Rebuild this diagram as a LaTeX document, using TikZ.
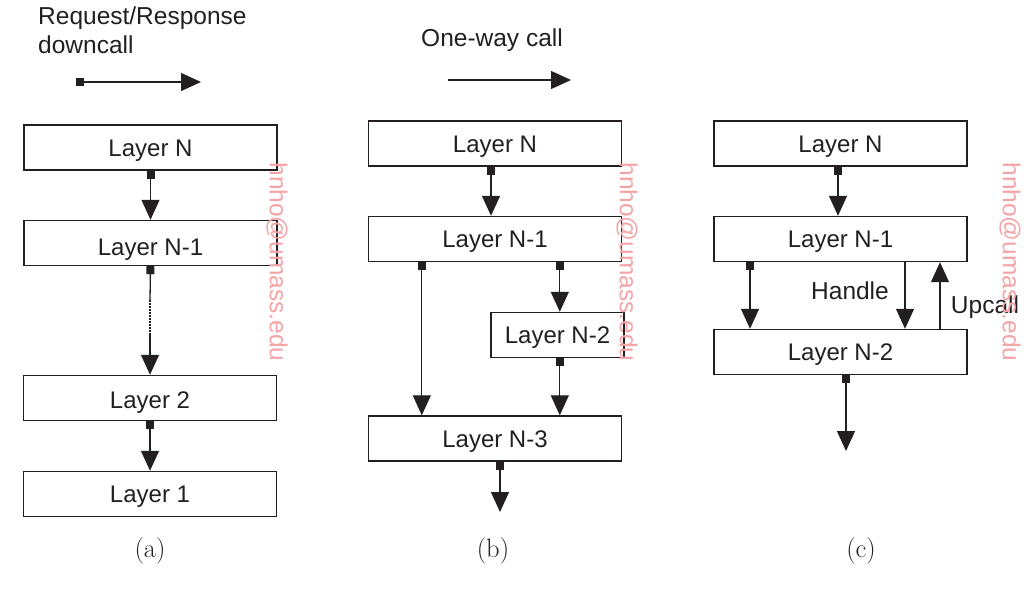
\documentclass[tikz,border=0pt]{standalone}
\usepackage{fontspec}
\setsansfont{Liberation Sans}
\usetikzlibrary{arrows.meta,calc}
\definecolor{ink}{HTML}{231F20}
\definecolor{wm}{HTML}{F4A3A6}
\tikzset{
  layerbox/.style={draw=ink, line width=1.4pt, minimum width=253pt, minimum height=45pt, inner sep=0pt,
    text height=17pt, text depth=0pt,
    text=ink, font=\sffamily\fontsize{24}{28}\selectfont},
  lbl/.style={text=ink, font=\sffamily\fontsize{24.5}{28}\selectfont, inner sep=0pt},
  subcap/.style={text=ink, font=\fontsize{26.5}{30}\selectfont, inner sep=0pt},
  wmark/.style={text=wm, rotate=-90, font=\sffamily\fontsize{24.5}{28}\selectfont, inner sep=0pt},
  conn/.style={draw=ink, line width=1.3pt},
  call/.style={conn, {Square[length=8pt,width=8pt]}-{Triangle[length=20pt,width=18pt]}},
  plain/.style={conn, -{Triangle[length=20pt,width=18pt]}},
}
\begin{document}
\begin{tikzpicture}[x=1pt,y=-1pt]
\useasboundingbox (0,0) rectangle (1036,594);
% ---------------- (a)
\node[lbl, anchor=west] (ta1) at (38,18) {Request/Response};
\node[lbl, anchor=west] (ta2) at (38,45) {downcall};
\coordinate (la1) at (76,82);
\coordinate (la2) at (201,82);
\draw[call] (la1) -- (la2);
\node[layerbox] (aN) at (150.5,147.5) {Layer N};
\node[layerbox, text height=25pt] (aN1) at (150.5,243) {Layer N-1};
\node[layerbox, text height=21pt] (a2) at (150,398) {Layer 2};
\node[layerbox] (a1) at (150,494) {Layer 1};
\draw[call] (aN.south) -- (aN1.north);
\coordinate (d1) at (150,300);
\coordinate (d2) at (150,334);
\draw[conn, {Square[length=8pt,width=8pt]}-] (aN1.south) -- (d1);
\draw[conn, line width=1.2pt, dash pattern=on 1.5pt off 1.5pt] (d1) -- (d2);
\draw[plain] (d2) -- (a2.north);
\draw[call] (a2.south) -- (a1.north);
\node[subcap] (ca) at (150,551) {(a)};
\node[wmark] (wa) at (277,262) {hnho@umass.edu};
% ---------------- (b)
\node[lbl] (tb) at (492,40) {One-way call};
\coordinate (lb1) at (448,80);
\coordinate (lb2) at (571,80);
\draw[plain] (lb1) -- (lb2);
\node[layerbox] (bN) at (495,143.5) {Layer N};
\node[layerbox] (bN1) at (495,239) {Layer N-1};
\node[layerbox, minimum width=133pt] (bN2) at (557.5,335) {Layer N-2};
\node[layerbox] (bN3) at (495,438.5) {Layer N-3};
\draw[call] (bN.south -| 491,0) -- (bN1.north -| 491,0);
\draw[call] ([xshift=54pt]bN1.south west) -- ([xshift=54pt]bN3.north west);
\draw[call] ([xshift=192pt]bN1.south west) -- ([xshift=192pt]bN3.north west |- bN2.north);
\draw[call] ([xshift=192pt]bN1.south west |- bN2.south) -- ([xshift=192pt]bN3.north west);
\coordinate (bend) at (500,512);
\draw[call] (bN3.south -| bend) -- (bend);
\node[subcap] (cb) at (493,551) {(b)};
\node[wmark] (wb) at (627,262) {hnho@umass.edu};
% ---------------- (c)
\node[layerbox] (cN) at (840.5,143.5) {Layer N};
\node[layerbox] (cN1) at (840.5,239) {Layer N-1};
\node[layerbox] (cN2) at (840.5,352) {Layer N-2};
\draw[call] (cN.south -| 838,0) -- (cN1.north -| 838,0);
\draw[call] (cN1.south -| 750,0) -- (cN2.north -| 750,0);
\draw[plain] (cN1.south -| 905,0) -- (cN2.north -| 905,0);
\draw[plain] (cN2.north -| 940,0) -- (cN1.south -| 940,0);
\node[lbl] (hl) at (850,291) {Handle};
\node[lbl] (ul) at (985,307) {Upcall};
\coordinate (cend) at (846,451);
\draw[call] (cN2.south -| cend) -- (cend);
\node[subcap] (cc) at (861,551) {(c)};
\node[wmark] (wc) at (1010,262) {hnho@umass.edu};
\end{tikzpicture}
\end{document}
